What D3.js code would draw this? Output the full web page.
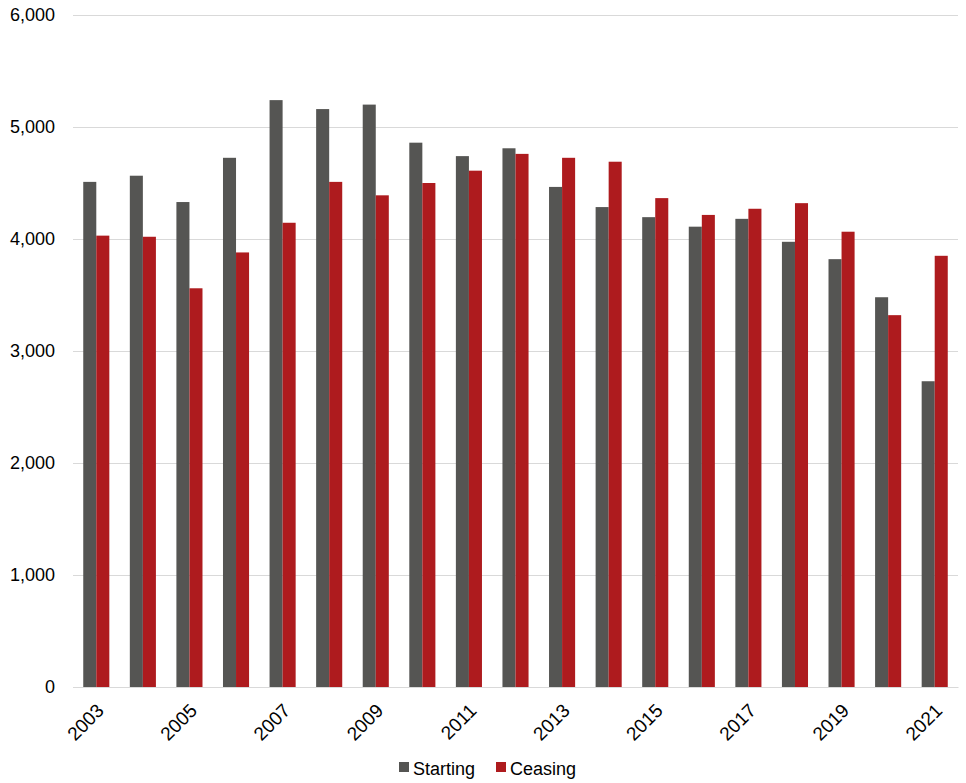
<!DOCTYPE html>
<html>
<head>
<meta charset="utf-8">
<script src="https://cdn.jsdelivr.net/npm/d3@7"></script>
<style>
  body { margin: 0; background: #fff; }
  svg { font-family: "Liberation Sans", Arial, sans-serif; }
</style>
</head>
<body>
<svg width="966" height="783"></svg>
<script>
const years = ["2003", "2004", "2005", "2006", "2007", "2008", "2009", "2010", "2011", "2012",
  "2013", "2014", "2015", "2016", "2017", "2018", "2019", "2020", "2021"];
const starting = [4510, 4565, 4330, 4725, 5240, 5160, 5200, 4860, 4740, 4810,
  4465, 4285, 4195, 4110, 4180, 3975, 3820, 3480, 2730];
const ceasing = [4030, 4020, 3560, 3880, 4145, 4510, 4390, 4500, 4610, 4760,
  4725, 4690, 4365, 4215, 4270, 4320, 4065, 3320, 3850];
const seriesNames = ["Starting", "Ceasing"];
const yTicks = [0, 1000, 2000, 3000, 4000, 5000, 6000];
const xTickLabels = ["2003", "2005", "2007", "2009", "2011", "2013", "2015", "2017", "2019", "2021"];

const colors = ["#555553", "#ae1b1e"];
const svg = d3.select("svg");
const margin = { top: 15, right: 8, bottom: 96, left: 73 };
const width = +svg.attr("width");
const height = +svg.attr("height");
const innerWidth = width - margin.left - margin.right;
const innerHeight = height - margin.top - margin.bottom;

const data = years.map((y, i) => ({ year: y, values: [starting[i], ceasing[i]] }));

const x = d3.scaleBand()
  .domain(years)
  .range([0, innerWidth])
  .paddingInner(0.44)
  .paddingOuter(0.22);

const xSub = d3.scaleBand()
  .domain([0, 1])
  .range([0, x.bandwidth()]);

const y = d3.scaleLinear()
  .domain([0, 6000])
  .range([innerHeight, 0]);

const g = svg.append("g")
  .attr("transform", `translate(${margin.left},${margin.top})`);

// gridlines + y labels
const yAxisG = g.append("g")
  .call(d3.axisLeft(y).tickValues(yTicks).tickSize(-innerWidth).tickPadding(18)
    .tickFormat(d3.format(",")));
yAxisG.select(".domain").remove();
yAxisG.selectAll(".tick line").attr("stroke", "#d9d9d9").attr("stroke-width", 1);
yAxisG.selectAll(".tick text").attr("font-size", 18).attr("fill", "#000");

// bars
const groups = g.selectAll(".year")
  .data(data)
  .enter()
  .append("g")
  .attr("transform", d => `translate(${x(d.year)},0)`);

groups.selectAll("rect")
  .data(d => d.values)
  .enter()
  .append("rect")
  .attr("x", (d, i) => xSub(i))
  .attr("width", xSub.bandwidth())
  .attr("y", d => y(d))
  .attr("height", d => y(0) - y(d))
  .attr("fill", (d, i) => colors[i]);

// x axis
const xAxisG = g.append("g")
  .attr("transform", `translate(0,${innerHeight})`)
  .call(d3.axisBottom(x).tickValues(xTickLabels).tickSize(0).tickPadding(10));
xAxisG.select(".domain").attr("stroke", "#d9d9d9");
xAxisG.selectAll(".tick text")
  .attr("font-size", 19)
  .attr("fill", "#000")
  .attr("text-anchor", "end")
  .attr("dy", "0.35em")
  .attr("transform", "translate(-3,13) rotate(-45)");

// legend
const legend = svg.append("g").attr("transform", "translate(399,762)");
const offsets = [0, 97];
seriesNames.forEach((name, i) => {
  const it = legend.append("g").attr("transform", `translate(${offsets[i]},0)`);
  it.append("rect").attr("width", 10).attr("height", 10).attr("fill", colors[i]);
  it.append("text").attr("x", 14).attr("y", 13).attr("font-size", 18).attr("fill", "#000").text(name);
});
</script>
</body>
</html>
